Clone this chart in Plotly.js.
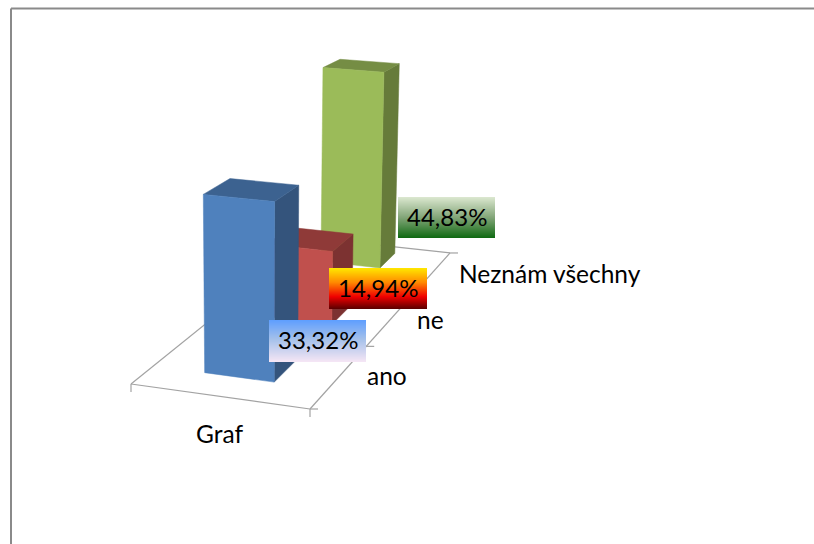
<!DOCTYPE html>
<html><head><meta charset="utf-8">
<script src="https://cdn.plot.ly/plotly-3.0.1.min.js"></script>
<style>html,body{margin:0;padding:0;background:#fff;overflow:hidden}</style>
</head><body><div id="chart" style="width:814px;height:544px"></div>
<script>
// ---- data ----
const seriesName = 'Graf';
const categories = ['ano', 'ne', 'Neznám všechny'];
const values = [33.32, 14.94, 44.83];

// ---- styling ----
const frontColors = ['#4F81BD', '#C0504D', '#9BBB59'];
const topColors = ['#3C6290', '#8F3A38', '#758D44'];
const sideColors = ['#34547C', '#7C3231', '#667B3A'];
const labelGradients = [
  [[0, '#5E9EFF'], [0.45, '#A3C0EA'], [1, '#F6E6F5']],
  [[0, '#FFE800'], [0.35, '#FF8A00'], [0.7, '#F00000'], [1, '#5A0000']],
  [[0, '#DCE8D0'], [0.5, '#82A578'], [1, '#0F6A12']]
];
const labelBoxes = [[269, 320, 97, 42], [329, 268, 98, 41], [398, 197, 97, 41]];

// ---- oblique 3D projection of the floor, uses hidden pixel-sized axes ----
const W = 814, H = 544;
const footprints = [
  {u0: 0.30, u1: 0.70, d0: 0.097, d1: 0.225},
  {u0: 0.29, u1: 0.70, d0: 0.43, d1: 0.565},
  {u0: 0.236, u1: 0.648, d0: 0.829, d1: 0.95}
];
const floor = {a: 168.96, b: 284, c: 131, d: 11.75, e: -67.5, f: 384, g: -0.0324, h: 0.33};
const K = 5.47, KEY = 0.00074, KEYX = 260;
function project(u, d, z) {
  const w = 1 + floor.g * u + floor.h * d;
  const x = (floor.a * u + floor.b * d + floor.c) / w;
  const y = (floor.d * u + floor.e * d + floor.f) / w;
  return [x + (x - KEYX) * KEY * z, y - z * K / w];
}
function poly(points, color) {
  const closed = points.concat([points[0]]);
  return {
    type: 'scatter', mode: 'lines', x: closed.map(p => p[0]), y: closed.map(p => p[1]),
    fill: 'toself', fillcolor: color, line: {color: color, width: 0.5},
    hoverinfo: 'skip', showlegend: false
  };
}
function seg(p, q) {
  return {
    type: 'scatter', mode: 'lines', x: [p[0], q[0]], y: [p[1], q[1]],
    line: {color: '#A3A3A3', width: 1.2}, hoverinfo: 'skip', showlegend: false
  };
}
const traces = [];
// floor edges
traces.push(seg(project(0, 0, 0), project(1, 0, 0)));
traces.push(seg(project(1, 0, 0), project(1, 1, 0)));
traces.push(seg(project(1, 1, 0), project(0, 1, 0)));
traces.push(seg(project(0, 1, 0), project(0, 0, 0)));
// tick marks
categories.concat(['']).forEach((c, i) => {
  const p = project(1, i / categories.length, 0);
  traces.push(seg(p, [p[0] + 8, p[1]]));
});
[0, 1].forEach(u => {
  const p = project(u, 0, 0);
  traces.push(seg(p, [p[0], p[1] + 8]));
});
// bars, back to front
for (let i = values.length - 1; i >= 0; i--) {
  const f = footprints[i], v = values[i];
  traces.push(poly([project(f.u1, f.d0, 0), project(f.u1, f.d1, 0), project(f.u1, f.d1, v), project(f.u1, f.d0, v)], sideColors[i]));
  traces.push(poly([project(f.u0, f.d0, v), project(f.u1, f.d0, v), project(f.u1, f.d1, v), project(f.u0, f.d1, v)], topColors[i]));
  traces.push(poly([project(f.u0, f.d0, 0), project(f.u1, f.d0, 0), project(f.u1, f.d0, v), project(f.u0, f.d0, v)], frontColors[i]));
}
// gradient label boxes as stacked strips
function hex(c) { return [1, 3, 5].map(k => parseInt(c.substr(k, 2), 16)); }
function gradAt(stops, t) {
  for (let i = 1; i < stops.length; i++) {
    if (t <= stops[i][0]) {
      const s = (t - stops[i - 1][0]) / (stops[i][0] - stops[i - 1][0]);
      const a = hex(stops[i - 1][1]), b = hex(stops[i][1]);
      return 'rgb(' + a.map((v, k) => Math.round(v + (b[k] - v) * s)).join(',') + ')';
    }
  }
  return stops[stops.length - 1][1];
}
const shapes = [
  {type: 'line', x0: 11, x1: 11, y0: 8.5, y1: H + 5, line: {color: '#8A8A8A', width: 2}},
  {type: 'line', x0: 11, x1: W + 5, y0: 8.5, y1: 8.5, line: {color: '#8A8A8A', width: 2}}
];
const annotations = [];
labelBoxes.forEach((b, i) => {
  for (let r = 0; r < b[3]; r++) {
    shapes.push({
      type: 'rect', layer: 'above', x0: b[0], x1: b[0] + b[2], y0: b[1] + r, y1: b[1] + r + 1,
      fillcolor: gradAt(labelGradients[i], (r + 0.5) / b[3]), line: {width: 0}
    });
  }
  annotations.push({
    x: b[0] + b[2] / 2, y: b[1] + b[3] / 2 - 1.5, text: values[i].toFixed(2).replace('.', ',') + '%',
    showarrow: false, font: {family: 'Lato, Carlito, sans-serif', size: 24, color: '#000'}
  });
});
const catLabelPos = [[365, 375], [415, 319], [457, 273]];
categories.forEach((c, i) => {
  annotations.push({
    x: catLabelPos[i][0], y: catLabelPos[i][1], text: c, xanchor: 'left', showarrow: false,
    font: {family: 'Lato, Carlito, sans-serif', size: 24.5, color: '#000'}
  });
});
annotations.push({
  x: 219, y: 433, text: seriesName, showarrow: false,
  font: {family: 'Lato, Carlito, sans-serif', size: 24.5, color: '#000'}
});
const hiddenAxis = {visible: false, fixedrange: true, zeroline: false, showgrid: false};
Plotly.newPlot('chart', traces, {
  width: W, height: H, margin: {l: 0, r: 0, t: 0, b: 0},
  paper_bgcolor: '#fff', plot_bgcolor: '#fff', showlegend: false,
  xaxis: Object.assign({range: [0, W]}, hiddenAxis),
  yaxis: Object.assign({range: [H, 0]}, hiddenAxis),
  shapes: shapes, annotations: annotations
}, {displayModeBar: false, staticPlot: true});
</script></body></html>
